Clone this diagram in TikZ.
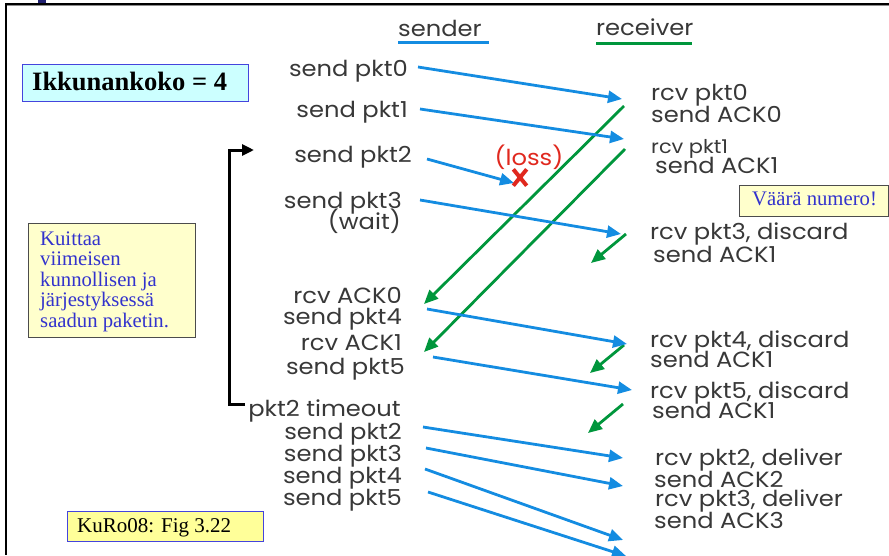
\documentclass[tikz,border=0pt]{standalone}
\usepackage{fontspec}
\setmainfont{Liberation Serif}
\newfontfamily\geo[FakeStretch=1.1]{Poppins}
\usetikzlibrary{arrows.meta}
\definecolor{pblue}{HTML}{148CE1}
\definecolor{pgreen}{HTML}{00963C}
\definecolor{pred}{HTML}{E0281E}
\definecolor{txtblue}{HTML}{3333CC}
\definecolor{boxblue}{HTML}{4444DD}
\definecolor{ltcyan}{HTML}{CCFFFF}
\definecolor{ltyellow}{HTML}{FFFFCC}
\definecolor{yellow2}{HTML}{FFFF99}
\definecolor{navy}{HTML}{202070}
\tikzset{
  lbl/.style={font=\geo\fontsize{22}{24}\selectfont, inner sep=0pt, text=black!78},
  sl/.style={lbl, anchor=base east},
  rl/.style={lbl, anchor=base west},
  barrow/.style={draw=pblue, line width=2.8pt, -{Triangle[length=14pt,width=12pt]}},
  garrow/.style={draw=pgreen, line width=2.8pt, -{Triangle[length=14pt,width=12pt]}},
  note/.style={font=\fontsize{20.7}{21}\selectfont, inner sep=0pt, anchor=base west},
}
\begin{document}
\begin{tikzpicture}[x=1pt,y=-1pt]
\useasboundingbox (0,0) rectangle (889,555);
% frame
\draw[black, line width=2pt] (6,3.5) -- (889,3.5);
\draw[black!45, line width=1pt] (7,5.5) -- (889,5.5);
\draw[black, line width=1.5pt] (6,3) -- (6,555);
\fill[navy] (38,0) rectangle (46,2.5);

% headers
\node[lbl, anchor=base west] (hs) at (398,36) {sender};
\draw[pblue, line width=3pt] (398,42) -- (489,42);
\node[lbl, anchor=base west] (hr) at (596,35) {receiver};
\draw[pgreen, line width=3pt] (596,43) -- (692,43);

% window box
\node[draw=boxblue, line width=1pt, fill=ltcyan, minimum width=226pt, minimum height=37pt, inner sep=0pt] (win) at (135,82.5) {};
\node[inner sep=0pt, anchor=base west, font=\bfseries\fontsize{26.5}{28}\selectfont] (wint) at (32,90) {Ikkunankoko = 4};

% sender labels
\node[sl] (s0) at (408,76) {send pkt0};
\node[sl] (s1) at (408,117) {send pkt1};
\node[sl] (s2) at (412,162) {send pkt2};
\node[sl] (s3) at (402,208) {send pkt3};
\node[sl] (s3w) at (401,229) {(wait)};
\node[sl] (a0) at (402,303) {rcv ACK0};
\node[sl] (s4) at (402,324) {send pkt4};
\node[sl] (a1) at (402,350) {rcv ACK1};
\node[sl] (s5) at (405,374) {send pkt5};
\node[sl] (to) at (401,416) {pkt2 timeout};
\node[sl] (r2) at (402,439) {send pkt2};
\node[sl] (r3) at (402,461) {send pkt3};
\node[sl] (r4) at (402,483) {send pkt4};
\node[sl] (r5) at (402,505) {send pkt5};

% receiver labels
\node[rl] (p0) at (651,100) {rcv pkt0};
\node[rl] (k0) at (651,122) {send ACK0};
\node[rl, font=\geo\fontsize{19}{21}\selectfont] (p1) at (651,153) {rcv pkt1};
\node[rl] (k1) at (655,173) {send ACK1};
\node[rl] (p3) at (650,239) {rcv pkt3, discard};
\node[rl] (k1b) at (653,262) {send ACK1};
\node[rl] (p4) at (650,347) {rcv pkt4, discard};
\node[rl] (k1c) at (650,367) {send ACK1};
\node[rl] (p5) at (650,398) {rcv pkt5, discard};
\node[rl] (k1d) at (652,418) {send ACK1};
\node[rl] (d2) at (655,465) {rcv pkt2, deliver};
\node[rl] (k2) at (654,487) {send ACK2};
\node[rl] (d3) at (655,506) {rcv pkt3, deliver};
\node[rl] (k3) at (654,528) {send ACK3};

% arrow end points
\coordinate (b1s) at (418,67);  \coordinate (b1e) at (622,99);
\coordinate (b2s) at (420,109); \coordinate (b2e) at (624,139);
\coordinate (b3s) at (427,159); \coordinate (b3e) at (514,183);
\coordinate (b4s) at (420,200); \coordinate (b4e) at (621,234);
\coordinate (b5s) at (427,309); \coordinate (b5e) at (627,344);
\coordinate (b6s) at (433,357); \coordinate (b6e) at (632,390);
\coordinate (b7s) at (423,427); \coordinate (b7e) at (623,458);
\coordinate (b8s) at (426,448); \coordinate (b8e) at (623,486);
\coordinate (b9s) at (425,469); \coordinate (b9e) at (623,540);
\coordinate (b10s) at (428,492); \coordinate (b10e) at (626,556);

\coordinate (g1s) at (624,106); \coordinate (g1e) at (424,304);
\coordinate (g2s) at (625,149); \coordinate (g2e) at (424,352);
\coordinate (g3s) at (626,234); \coordinate (g3e) at (591,263);
\coordinate (g4s) at (624,345); \coordinate (g4e) at (590,373);
\coordinate (g5s) at (623,404); \coordinate (g5e) at (588,433);

% green acks (drawn first, blue on top)
\draw[garrow] (g1s) -- (g1e);
\draw[garrow] (g2s) -- (g2e);
\draw[garrow] (g3s) -- (g3e);
\draw[garrow] (g4s) -- (g4e);
\draw[garrow] (g5s) -- (g5e);

% blue packets
\draw[barrow] (b1s) -- (b1e);
\draw[barrow] (b2s) -- (b2e);
\draw[barrow] (b3s) -- (b3e);
\draw[barrow] (b4s) -- (b4e);
\draw[barrow] (b5s) -- (b5e);
\draw[barrow] (b6s) -- (b6e);
\draw[barrow] (b7s) -- (b7e);
\draw[barrow] (b8s) -- (b8e);
\draw[barrow] (b9s) -- (b9e);
\draw[barrow] (b10s) -- (b10e);

% loss
\node[lbl, text=pred, anchor=base] (loss) at (529,165) {(loss)};
\node[inner sep=0pt, minimum width=13pt, minimum height=16pt] (xm) at (520,177.5) {};
\draw[pred, line width=4pt] (xm.north west) -- (xm.south east) (xm.north east) -- (xm.south west);

% timeout bracket
\coordinate (bt) at (229,150);
\coordinate (bb) at (229,404);
\coordinate (btip) at (254,150);
\coordinate (bbe) at (245,404);
\draw[black, line width=3pt, -{Triangle[length=12pt,width=11pt]}] (bbe) -- (bb) -- (bt) -- (btip);

% note boxes
\node[draw=black!70, line width=0.8pt, fill=ltyellow, minimum width=167pt, minimum height=114pt, inner sep=0pt] (kbox) at (111.5,280) {};
\node[note, text=txtblue] (kt1) at (40,245) {Kuittaa};
\node[note, text=txtblue] (kt2) at (40,265.5) {viimeisen};
\node[note, text=txtblue] (kt3) at (40,286) {kunnollisen ja};
\node[note, text=txtblue] (kt4) at (40,306.5) {järjestyksessä};
\node[note, text=txtblue] (kt5) at (40,327) {saadun paketin.};

\node[draw=black!70, line width=0.8pt, fill=ltyellow, minimum width=149pt, minimum height=31pt, inner sep=0pt] (vbox) at (813.5,200.5) {};
\node[note, text=txtblue] (vtxt) at (752,205) {Väärä numero!};

\node[draw=boxblue, line width=1pt, fill=yellow2, minimum width=196pt, minimum height=30pt, inner sep=0pt] (fbox) at (165,526) {};
\node[note, font=\fontsize{21}{22}\selectfont] (ftxt) at (77,532) {KuRo08: Fig 3.22};
\end{tikzpicture}
\end{document}
